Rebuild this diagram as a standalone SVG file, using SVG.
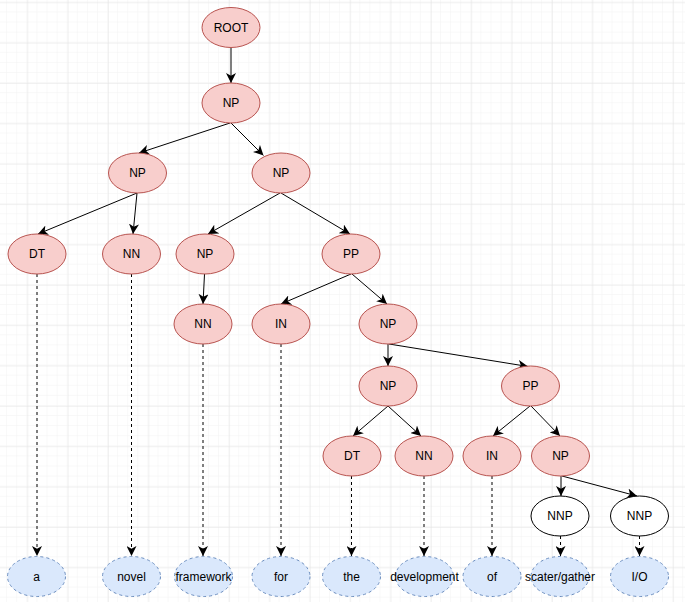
<svg xmlns="http://www.w3.org/2000/svg" width="685" height="602" viewBox="0 0 685 602">
<defs>
<pattern id="minor" patternUnits="userSpaceOnUse" x="7.1" y="2.3" width="10.09" height="10.09">
<path d="M10.09 0 V10.09 M0 10.09 H10.09" fill="none" stroke="#f2f2f2" stroke-width="1"/>
</pattern>
<pattern id="major" patternUnits="userSpaceOnUse" x="27.3" y="2.3" width="40.36" height="40.36">
<path d="M0 0 V40.36 M0 0 H40.36" fill="none" stroke="#e3e3e3" stroke-width="1"/>
</pattern>
<marker id="arr" markerUnits="userSpaceOnUse" markerWidth="10" markerHeight="10" viewBox="0 0 8 8" refX="8" refY="4" orient="auto">
<path d="M0,0 L8,4 L0,8 L2.2,4 z" fill="#000"/>
</marker>
<style>
.n ellipse{fill:#f8cecc;stroke:#b85450;stroke-width:1}
.w ellipse{fill:#ffffff;stroke:#000000;stroke-width:1}
.l ellipse{fill:#dae8fc;stroke:#6c8ebf;stroke-width:1;stroke-dasharray:3 3}
text{font-family:"Liberation Sans",Arial,sans-serif;font-size:12px;fill:#000;text-anchor:middle;dominant-baseline:central}
.e line{stroke:#000;stroke-width:1;fill:none;marker-end:url(#arr)}
.e line.d{stroke-dasharray:3 3}
</style>
</defs>
<rect width="685" height="602" fill="#ffffff"/>
<rect width="685" height="602" fill="url(#minor)"/>
<rect width="685" height="602" fill="url(#major)"/>

<g id="connectors" class="e">
<line x1="231" y1="47.5" x2="231" y2="83"/>
<line x1="230" y1="123" x2="139" y2="153"/>
<line x1="231" y1="123" x2="263.5" y2="155.5"/>
<line x1="137" y1="193" x2="38" y2="234"/>
<line x1="137" y1="193" x2="133" y2="234"/>
<line x1="280" y1="193" x2="208" y2="234"/>
<line x1="281" y1="193" x2="350" y2="234"/>
<line x1="204.5" y1="274" x2="203" y2="304"/>
<line x1="351" y1="274" x2="281" y2="304"/>
<line x1="352" y1="274" x2="387" y2="304"/>
<line x1="388" y1="344" x2="388" y2="366"/>
<line x1="389" y1="344" x2="528" y2="366.5"/>
<line x1="388" y1="406" x2="353" y2="436"/>
<line x1="388" y1="406" x2="421" y2="436"/>
<line x1="530" y1="406" x2="493" y2="436"/>
<line x1="531" y1="406" x2="560" y2="436"/>
<line x1="561" y1="476" x2="561" y2="496"/>
<line x1="562" y1="476" x2="637" y2="496"/>
<line class="d" x1="37" y1="274" x2="37" y2="556"/>
<line class="d" x1="131.5" y1="274" x2="131.5" y2="556"/>
<line class="d" x1="203" y1="344" x2="203" y2="556"/>
<line class="d" x1="281" y1="344" x2="281" y2="556"/>
<line class="d" x1="351.5" y1="476" x2="351.5" y2="556"/>
<line class="d" x1="424" y1="476" x2="424" y2="556"/>
<line class="d" x1="492" y1="476" x2="492" y2="556"/>
<line class="d" x1="560.5" y1="536" x2="560.5" y2="556"/>
<line class="d" x1="639.5" y1="536" x2="639.5" y2="556"/>
</g>

<g id="root" class="n"><ellipse cx="231" cy="27.5" rx="29" ry="20"/><text x="231" y="27.5">ROOT</text></g>
<g id="np1" class="n"><ellipse cx="231" cy="103" rx="29" ry="20"/><text x="231" y="103">NP</text></g>
<g id="np-left" class="n"><ellipse cx="137.5" cy="173" rx="29" ry="20"/><text x="137.5" y="173">NP</text></g>
<g id="np-right" class="n"><ellipse cx="281" cy="173" rx="29" ry="20"/><text x="281" y="173">NP</text></g>
<g id="dt1" class="n"><ellipse cx="37" cy="254" rx="29" ry="20"/><text x="37" y="254">DT</text></g>
<g id="nn1" class="n"><ellipse cx="131.5" cy="254" rx="29" ry="20"/><text x="131.5" y="254">NN</text></g>
<g id="np2" class="n"><ellipse cx="205" cy="254" rx="29" ry="20"/><text x="205" y="254">NP</text></g>
<g id="pp1" class="n"><ellipse cx="351" cy="254" rx="29" ry="20"/><text x="351" y="254">PP</text></g>
<g id="nn2" class="n"><ellipse cx="203" cy="324" rx="29" ry="20"/><text x="203" y="324">NN</text></g>
<g id="in1" class="n"><ellipse cx="281" cy="324" rx="29" ry="20"/><text x="281" y="324">IN</text></g>
<g id="np3" class="n"><ellipse cx="388" cy="324" rx="29" ry="20"/><text x="388" y="324">NP</text></g>
<g id="np4" class="n"><ellipse cx="388" cy="386" rx="29" ry="20"/><text x="388" y="386">NP</text></g>
<g id="pp2" class="n"><ellipse cx="530.5" cy="386" rx="29" ry="20"/><text x="530.5" y="386">PP</text></g>
<g id="dt2" class="n"><ellipse cx="352" cy="456" rx="29" ry="20"/><text x="352" y="456">DT</text></g>
<g id="nn3" class="n"><ellipse cx="424" cy="456" rx="29" ry="20"/><text x="424" y="456">NN</text></g>
<g id="in2" class="n"><ellipse cx="492" cy="456" rx="29" ry="20"/><text x="492" y="456">IN</text></g>
<g id="np5" class="n"><ellipse cx="560.5" cy="456" rx="29" ry="20"/><text x="560.5" y="456">NP</text></g>
<g id="nnp1" class="w"><ellipse cx="560" cy="516" rx="29" ry="20"/><text x="560" y="516">NNP</text></g>
<g id="nnp2" class="w"><ellipse cx="639.5" cy="516" rx="29" ry="20"/><text x="639.5" y="516">NNP</text></g>

<g id="leaf-a" class="l"><ellipse cx="36.5" cy="576.5" rx="29" ry="20"/><text x="36.5" y="576.5">a</text></g>
<g id="leaf-novel" class="l"><ellipse cx="131.5" cy="576.5" rx="29" ry="20"/><text x="131.5" y="576.5">novel</text></g>
<g id="leaf-framework" class="l"><ellipse cx="203.5" cy="576.5" rx="29" ry="20"/><text x="203.5" y="576.5">framework</text></g>
<g id="leaf-for" class="l"><ellipse cx="281" cy="576.5" rx="29" ry="20"/><text x="281" y="576.5">for</text></g>
<g id="leaf-the" class="l"><ellipse cx="351.5" cy="576.5" rx="29" ry="20"/><text x="351.5" y="576.5">the</text></g>
<g id="leaf-development" class="l"><ellipse cx="424.5" cy="576.5" rx="29" ry="20"/><text x="424.5" y="576.5">development</text></g>
<g id="leaf-of" class="l"><ellipse cx="492" cy="576.5" rx="29" ry="20"/><text x="492" y="576.5">of</text></g>
<g id="leaf-scater" class="l"><ellipse cx="560" cy="576.5" rx="29" ry="20"/><text x="560" y="576.5">scater/gather</text></g>
<g id="leaf-io" class="l"><ellipse cx="639.5" cy="576.5" rx="29" ry="20"/><text x="639.5" y="576.5">I/O</text></g>
</svg>
